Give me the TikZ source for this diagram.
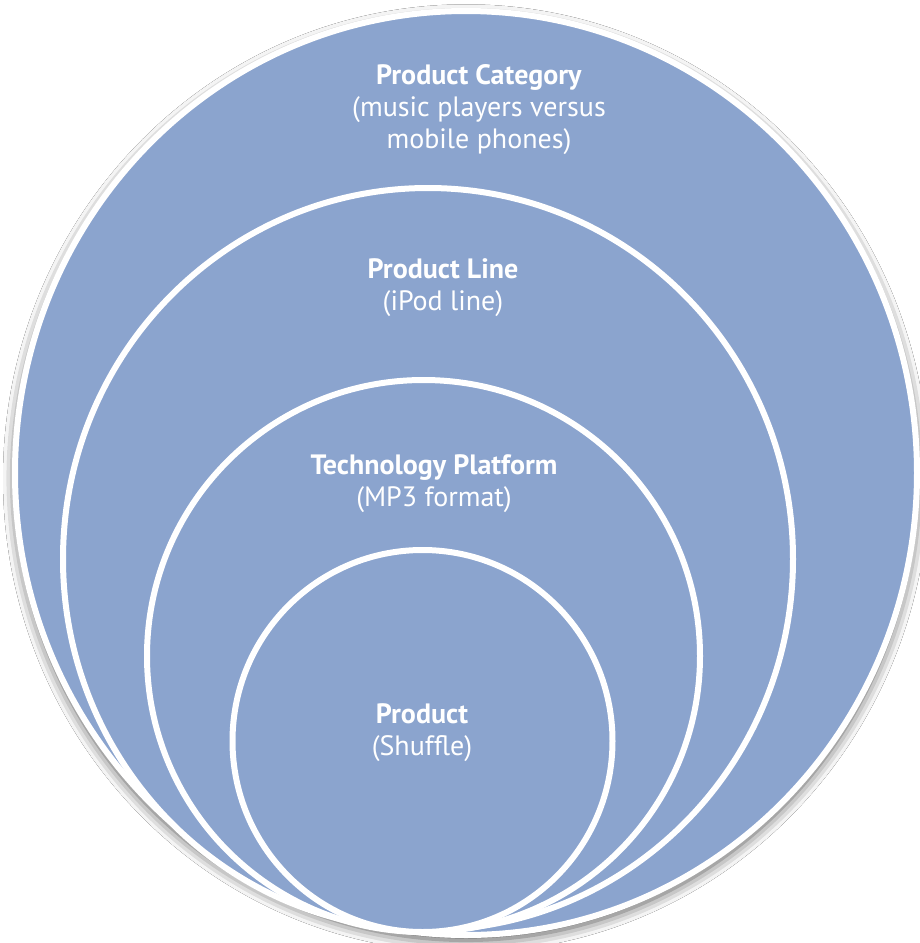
\documentclass[tikz,border=0pt]{standalone}
\usepackage{fontspec}
\setmainfont{PT Sans}
\usetikzlibrary{shapes.geometric,shadows.blur}
\definecolor{ringblue}{RGB}{139,164,206}
\begin{document}
\begin{tikzpicture}[x=0.75pt,y=-0.75pt,
  ring/.style={ellipse, draw=white, line width=4.5pt, inner sep=0pt, fill=ringblue},
  lbl/.style={text=white, align=center, font=\fontsize{21}{24}\selectfont}]
\useasboundingbox (0,0) rectangle (920,943);
\fill[white] (0,0) rectangle (920,943);
\node[ring, minimum width=676.5pt, minimum height=693pt,
  blur shadow={shadow xshift=0pt, shadow yshift=-4pt, shadow blur radius=9pt, shadow opacity=70}] (category) at (466,473) {};
\node[ring, minimum width=547.5pt, minimum height=556.5pt] (line) at (428,559) {};
\node[ring, minimum width=414.75pt, minimum height=414pt] (platform) at (423.5,656) {};
\node[ring, minimum width=285pt, minimum height=286.5pt] (product) at (422.5,741) {};
\node[lbl] (tcategory) at (479,110) {\textbf{Product Category}\\(music players versus\\mobile phones)};
\node[lbl] (tline) at (443,288) {\textbf{Product Line}\\(iPod line)};
\node[lbl] (tplatform) at (434,484) {\textbf{Technology Platform}\\(MP3 format)};
\node[lbl] (tproduct) at (422,733) {\textbf{Product}\\(Shuffle)};
\end{tikzpicture}
\end{document}
